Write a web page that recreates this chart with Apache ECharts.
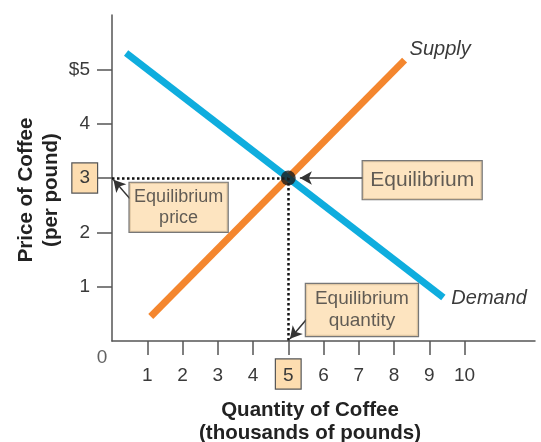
<!DOCTYPE html>
<html>
<head>
<meta charset="utf-8">
<script src="https://cdn.jsdelivr.net/npm/echarts@6/dist/echarts.min.js"></script>
<style>
  html, body { margin: 0; padding: 0; background: #fff; }
  #chart { width: 541px; height: 442px; }
</style>
</head>
<body>
<div id="chart"></div>
<script>
// supply & demand for coffee (quantity in thousands of pounds, price per pound)
const demandLine = [[0.4, 5.3], [9.4, 0.8]]
const supplyLine = [[1.1, 0.45], [8.3, 5.17]]
const equilibrium = [5, 3]

const xTicks = [1, 2, 3, 4, 5, 6, 7, 8, 9, 10]
const yTicks = [1, 2, 3, 4, 5]
const yTickLabels = ['1', '2', '3', '4', '$5']

// annotation boxes: [quantity, price] of the box centre
const notePrice = [1.89, 2.46]
const noteEquilibrium = [8.8, 2.96]
const noteQuantity = [7.09, 0.57]
const zeroLabelAt = [-0.28, -0.3]

// arrows from boxes: [from, to]
const arrowPrice = [[0.51, 2.62], [0.04, 2.97]]
const arrowEquilibrium = [[7.11, 3.0], [5.33, 3.0]]
const arrowQuantity = [[5.52, 0.4], [5.05, 0.04]]

const FONT = "'Liberation Sans', Arial, sans-serif"
const BOX_FILL = '#FDDDB0'
const BOX_BORDER = '#555'
const TEXT = '#3a3a3a'

// tick label styles: 'n' plain, 'b' boxed (equilibrium value)
function tickRich(pad) {
  const base = { fontFamily: FONT, fontSize: 19, color: TEXT, lineHeight: 22, padding: pad }
  return {
    n: base,
    b: Object.assign({}, base, { backgroundColor: BOX_FILL, borderColor: BOX_BORDER, borderWidth: 1.2 })
  }
}

function boxLabel(text, size, lh, pad) {
  return {
    show: true,
    position: 'inside',
    formatter: text,
    fontFamily: FONT,
    fontSize: size,
    lineHeight: lh,
    color: TEXT,
    align: 'center',
    padding: pad,
    backgroundColor: BOX_FILL,
    borderColor: BOX_BORDER,
    borderWidth: 1.2
  }
}

const chart = echarts.init(document.getElementById('chart'))

chart.setOption({
  animation: false,
  grid: { left: 112, right: 6, top: 15, bottom: 101, outerBoundsMode: 'none' },
  xAxis: {
    type: 'value',
    min: 0,
    max: 12,
    interval: 1,
    name: 'Quantity of Coffee\n(thousands of pounds)',
    nameLocation: 'middle',
    nameMoveOverlap: false,
    nameGap: 58,
    nameTextStyle: {
      fontFamily: FONT, fontWeight: 'bold', fontSize: 20.5, lineHeight: 23,
      color: '#222', padding: [0, 27, 0, 0]
    },
    axisLine: { lineStyle: { color: '#555', width: 1.5 } },
    axisTick: { customValues: xTicks, length: 14, lineStyle: { color: '#555', width: 1.5 } },
    axisLabel: {
      customValues: xTicks,
      margin: 22,
      formatter: v => (v === equilibrium[0] ? '{b|' + v + '}' : '{n|' + v + '}'),
      rich: tickRich([7, 7, 3, 7])
    },
    splitLine: { show: false }
  },
  yAxis: {
    type: 'value',
    min: 0,
    max: 6,
    interval: 1,
    name: 'Price of Coffee\n(per pound)',
    nameLocation: 'middle',
    nameRotate: 90,
    nameMoveOverlap: false,
    nameGap: 48,
    nameTextStyle: {
      fontFamily: FONT, fontWeight: 'bold', fontSize: 20.5, lineHeight: 25,
      color: '#222', padding: [0, 24, 0, 0]
    },
    axisLine: { show: true, lineStyle: { color: '#555', width: 1.5 } },
    axisTick: { show: true, customValues: yTicks, length: 15, lineStyle: { color: '#555', width: 1.5 } },
    axisLabel: {
      customValues: yTicks,
      margin: 15,
      formatter: v => {
        const t = yTickLabels[yTicks.indexOf(v)]
        return v === equilibrium[1] ? '{b|' + t + '}' : '{n|' + t + '}'
      },
      rich: tickRich([5, 7, 5, 7])
    },
    splitLine: { show: false }
  },
  series: [
    {
      name: 'Supply',
      type: 'line',
      data: supplyLine,
      symbol: 'none',
      lineStyle: { color: '#F4862E', width: 7, cap: 'butt' },
      endLabel: {
        show: true, formatter: 'Supply', distance: 5, offset: [0, -11],
        fontFamily: FONT, fontStyle: 'italic', fontSize: 20, color: TEXT
      },
      z: 3
    },
    {
      name: 'Demand',
      type: 'line',
      data: demandLine,
      symbol: 'none',
      lineStyle: { color: '#0FADDE', width: 7, cap: 'butt' },
      endLabel: {
        show: true, formatter: 'Demand', distance: 8, offset: [0, 1],
        fontFamily: FONT, fontStyle: 'italic', fontSize: 20, color: TEXT
      },
      z: 4
    },
    {
      name: 'Equilibrium',
      type: 'scatter',
      data: [equilibrium],
      symbolSize: 15,
      itemStyle: { color: '#1b1b1b' },
      silent: true,
      z: 6,
      markLine: {
        silent: true,
        symbol: 'none',
        label: { show: false },
        lineStyle: { color: '#111', width: 2.5, type: [2.5, 2.5], cap: 'butt' },
        data: [
          [{ coord: [0, equilibrium[1]] }, { coord: equilibrium }],
          [{ coord: equilibrium }, { coord: [equilibrium[0], 0] }]
        ]
      }
    },
    {
      name: 'notes',
      type: 'scatter',
      symbolSize: 1,
      itemStyle: { color: 'rgba(0,0,0,0)' },
      silent: true,
      clip: false,
      z: 7,
      data: [
        { value: notePrice, label: boxLabel('Equilibrium\nprice', 18, 21, [3.5, 4.5]) },
        { value: noteEquilibrium, label: boxLabel('Equilibrium', 21, 24, [7, 7.5]) },
        { value: noteQuantity, label: boxLabel('Equilibrium\nquantity', 19, 22, [4, 9]) },
        {
          value: zeroLabelAt,
          label: { show: true, position: 'inside', formatter: '0', fontFamily: FONT, fontSize: 19, color: TEXT }
        }
      ],
      markLine: {
        silent: true,
        symbol: ['none', 'arrow'],
        symbolSize: [10, 12],
        label: { show: false },
        lineStyle: { color: '#333', width: 1.5, type: 'solid' },
        data: [arrowPrice, arrowEquilibrium, arrowQuantity].map(a => [{ coord: a[0] }, { coord: a[1] }])
      }
    }
  ]
})
</script>
</body>
</html>
